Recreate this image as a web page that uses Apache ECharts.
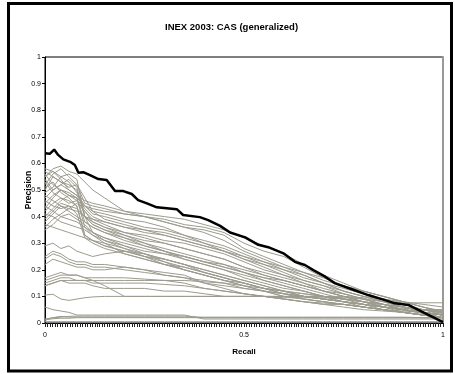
<!DOCTYPE html>
<html><head><meta charset="utf-8">
<script src="https://cdn.jsdelivr.net/npm/echarts@6/dist/echarts.min.js"></script>
<style>html,body{margin:0;padding:0;background:#fff}#c{width:455px;height:374px}</style>
</head><body><div id="c"></div>
<script>
const titleText = "INEX 2003: CAS (generalized)";
const xName = "Recall";
const yName = "Precision";
const xLabelValues = [0, 0.5, 1];

// best run (thick black line): recall / precision
const bestRecall = [0,0.012,0.023,0.033,0.046,0.063,0.075,0.084,0.096,0.113,0.134,0.155,0.176,0.197,0.218,0.234,0.256,0.281,0.331,0.347,0.389,0.41,0.44,0.465,0.503,0.536,0.561,0.599,0.628,0.653,0.674,0.704,0.729,0.771,0.812,0.854,0.879,0.913,0.938,0.972,1.0];
const bestPrecision = [0.638,0.636,0.652,0.632,0.615,0.606,0.594,0.565,0.567,0.556,0.541,0.538,0.496,0.496,0.485,0.462,0.45,0.435,0.428,0.406,0.398,0.387,0.365,0.34,0.322,0.294,0.285,0.262,0.23,0.218,0.199,0.174,0.149,0.127,0.105,0.086,0.074,0.068,0.049,0.024,0.003];

// other runs (gray lines), sampled at these recall levels
const recallGrid = [0,0.02,0.04,0.06,0.08,0.1,0.12,0.15,0.2,0.25,0.3,0.35,0.4,0.45,0.5,0.55,0.6,0.65,0.7,0.75,0.8,0.85,0.9,0.95,1];
const run01 = [0.55,0.58,0.59,0.57,0.56,0.53,0.50,0.47,0.42,0.40,0.39,0.37,0.36,0.34,0.30,0.27,0.25,0.21,0.17,0.14,0.11,0.09,0.075,0.076,0.076];
const run02 = [0.52,0.56,0.58,0.55,0.52,0.45,0.44,0.43,0.41,0.40,0.38,0.36,0.34,0.31,0.27,0.24,0.21,0.18,0.15,0.12,0.10,0.08,0.06,0.05,0.05];
const run03 = [0.58,0.57,0.55,0.56,0.54,0.40,0.39,0.38,0.36,0.35,0.33,0.31,0.29,0.27,0.24,0.22,0.19,0.16,0.14,0.11,0.09,0.07,0.05,0.04,0.03];
const run04 = [0.50,0.55,0.53,0.52,0.50,0.40,0.38,0.36,0.34,0.32,0.30,0.28,0.26,0.24,0.21,0.19,0.17,0.15,0.12,0.10,0.08,0.06,0.05,0.04,0.02];
const run05 = [0.56,0.52,0.50,0.48,0.47,0.36,0.34,0.32,0.30,0.28,0.26,0.24,0.22,0.20,0.18,0.16,0.14,0.12,0.10,0.09,0.07,0.06,0.04,0.03,0.02];
const run06 = [0.47,0.50,0.52,0.54,0.51,0.40,0.37,0.35,0.32,0.29,0.27,0.25,0.23,0.21,0.19,0.17,0.15,0.13,0.11,0.09,0.08,0.06,0.05,0.035,0.02];
const run07 = [0.53,0.49,0.47,0.45,0.46,0.44,0.42,0.41,0.39,0.38,0.36,0.33,0.30,0.27,0.24,0.21,0.18,0.15,0.13,0.11,0.09,0.07,0.06,0.04,0.03];
const run08 = [0.45,0.48,0.50,0.49,0.47,0.38,0.36,0.34,0.32,0.30,0.28,0.26,0.24,0.22,0.19,0.16,0.14,0.12,0.10,0.08,0.07,0.05,0.04,0.03,0.02];
const run09 = [0.42,0.45,0.47,0.46,0.44,0.33,0.31,0.29,0.27,0.26,0.24,0.22,0.20,0.18,0.16,0.14,0.12,0.10,0.09,0.08,0.06,0.05,0.04,0.03,0.02];
const run10 = [0.48,0.46,0.44,0.43,0.45,0.42,0.38,0.36,0.33,0.30,0.27,0.25,0.23,0.21,0.19,0.17,0.16,0.14,0.12,0.10,0.09,0.07,0.05,0.04,0.03];
const run11 = [0.40,0.43,0.46,0.48,0.47,0.44,0.43,0.42,0.41,0.40,0.38,0.36,0.35,0.33,0.28,0.25,0.22,0.19,0.16,0.14,0.12,0.10,0.08,0.06,0.04];
const run12 = [0.38,0.41,0.44,0.42,0.40,0.38,0.36,0.34,0.31,0.29,0.27,0.24,0.22,0.20,0.17,0.15,0.13,0.12,0.10,0.09,0.08,0.06,0.05,0.04,0.03];
const run13 = [0.51,0.53,0.49,0.47,0.44,0.33,0.31,0.29,0.27,0.25,0.23,0.21,0.19,0.17,0.15,0.13,0.11,0.10,0.09,0.08,0.07,0.06,0.05,0.04,0.03];
const run14 = [0.44,0.42,0.40,0.41,0.39,0.37,0.34,0.32,0.29,0.27,0.26,0.25,0.23,0.22,0.20,0.18,0.16,0.14,0.12,0.10,0.08,0.07,0.05,0.04,0.03];
const run15 = [0.49,0.51,0.55,0.53,0.49,0.44,0.41,0.40,0.38,0.36,0.35,0.33,0.31,0.29,0.26,0.23,0.20,0.18,0.15,0.12,0.10,0.09,0.07,0.05,0.03];
const run16 = [0.36,0.39,0.41,0.43,0.42,0.40,0.37,0.35,0.33,0.31,0.30,0.28,0.26,0.24,0.21,0.18,0.16,0.14,0.12,0.11,0.09,0.08,0.06,0.05,0.04];
const run17 = [0.55,0.57,0.54,0.50,0.48,0.46,0.45,0.44,0.42,0.41,0.40,0.39,0.37,0.35,0.32,0.29,0.26,0.22,0.18,0.15,0.12,0.10,0.08,0.06,0.045];
const run18 = [0.46,0.44,0.43,0.44,0.41,0.32,0.30,0.28,0.26,0.24,0.22,0.20,0.18,0.16,0.15,0.13,0.12,0.11,0.10,0.09,0.08,0.07,0.06,0.05,0.04];
const run19 = [0.41,0.40,0.38,0.37,0.36,0.35,0.33,0.31,0.29,0.26,0.23,0.20,0.18,0.16,0.14,0.12,0.11,0.10,0.09,0.08,0.07,0.06,0.05,0.04,0.03];
const run20 = [0.37,0.36,0.35,0.34,0.33,0.32,0.31,0.30,0.28,0.26,0.24,0.22,0.19,0.17,0.15,0.13,0.11,0.09,0.08,0.07,0.06,0.05,0.04,0.03,0.02];
const run21 = [0.29,0.30,0.28,0.29,0.27,0.26,0.25,0.26,0.27,0.25,0.24,0.22,0.20,0.18,0.16,0.14,0.12,0.10,0.09,0.08,0.07,0.06,0.05,0.04,0.03];
const run22 = [0.24,0.26,0.25,0.23,0.22,0.22,0.21,0.21,0.20,0.19,0.18,0.17,0.16,0.15,0.13,0.12,0.11,0.10,0.09,0.08,0.07,0.06,0.05,0.04,0.03];
const run23 = [0.22,0.24,0.23,0.22,0.21,0.21,0.20,0.20,0.21,0.20,0.19,0.18,0.15,0.13,0.11,0.10,0.09,0.08,0.07,0.06,0.05,0.045,0.04,0.03,0.02];
const run24 = [0.25,0.27,0.26,0.24,0.23,0.23,0.22,0.22,0.21,0.20,0.18,0.17,0.15,0.14,0.13,0.12,0.10,0.09,0.08,0.07,0.06,0.05,0.04,0.03,0.02];
const run25 = [0.16,0.17,0.18,0.18,0.18,0.17,0.16,0.14,0.10,0.10,0.10,0.10,0.10,0.10,0.10,0.10,0.095,0.095,0.095,0.09,0.08,0.06,0.05,0.04,0.03];
const run26 = [0.14,0.15,0.16,0.16,0.16,0.16,0.16,0.16,0.16,0.16,0.16,0.16,0.155,0.15,0.14,0.12,0.10,0.09,0.08,0.07,0.06,0.05,0.04,0.03,0.02];
const run27 = [0.17,0.18,0.19,0.18,0.18,0.17,0.17,0.17,0.17,0.165,0.16,0.15,0.13,0.12,0.11,0.10,0.09,0.08,0.07,0.07,0.06,0.05,0.04,0.03,0.02];
const run28 = [0.15,0.16,0.17,0.17,0.16,0.16,0.15,0.15,0.15,0.15,0.145,0.14,0.13,0.12,0.11,0.10,0.09,0.08,0.075,0.07,0.06,0.05,0.045,0.04,0.03];
const run29 = [0.105,0.108,0.09,0.085,0.09,0.095,0.098,0.1,0.1,0.1,0.1,0.1,0.1,0.1,0.1,0.1,0.1,0.1,0.1,0.1,0.095,0.06,0.055,0.05,0.05];
const run30 = [0.06,0.05,0.045,0.04,0.03,0.03,0.03,0.03,0.03,0.03,0.03,0.03,0.015,0.015,0.015,0.015,0.015,0.015,0.015,0.015,0.015,0.015,0.015,0.015,0.015];
const run31 = [0.01,0.02,0.025,0.022,0.022,0.022,0.022,0.022,0.022,0.022,0.022,0.022,0.022,0.022,0.022,0.022,0.022,0.022,0.022,0.022,0.022,0.022,0.022,0.02,0.02];
const run32 = [0.012,0.016,0.018,0.018,0.02,0.02,0.02,0.02,0.02,0.02,0.02,0.02,0.02,0.02,0.02,0.02,0.02,0.02,0.02,0.02,0.02,0.02,0.02,0.02,0.02];
const run33 = [0.005,0.005,0.005,0.005,0.005,0.005,0.005,0.005,0.005,0.005,0.005,0.005,0.005,0.005,0.005,0.005,0.005,0.005,0.005,0.005,0.005,0.005,0.005,0.005,0.005];
const run34 = [0.015,0.02,0.022,0.025,0.026,0.026,0.026,0.026,0.026,0.026,0.026,0.026,0.02,0.02,0.02,0.02,0.02,0.02,0.02,0.02,0.02,0.02,0.02,0.02,0.02];
const run35 = [0.14,0.15,0.16,0.15,0.15,0.15,0.14,0.13,0.13,0.13,0.12,0.12,0.11,0.10,0.10,0.10,0.10,0.10,0.10,0.095,0.09,0.09,0.08,0.07,0.06];
const run36 = [0.43,0.47,0.50,0.48,0.46,0.42,0.39,0.37,0.34,0.33,0.31,0.30,0.28,0.26,0.23,0.20,0.18,0.16,0.14,0.12,0.10,0.08,0.06,0.05,0.04];
const run37 = [0.54,0.50,0.52,0.50,0.48,0.43,0.40,0.38,0.36,0.34,0.33,0.31,0.29,0.27,0.25,0.23,0.21,0.19,0.17,0.14,0.12,0.10,0.08,0.06,0.04];
const run38 = [0.39,0.42,0.45,0.44,0.43,0.40,0.34,0.31,0.28,0.25,0.22,0.20,0.18,0.16,0.14,0.13,0.12,0.11,0.10,0.09,0.08,0.07,0.06,0.05,0.04];
const run39 = [0.35,0.37,0.40,0.39,0.38,0.36,0.33,0.30,0.26,0.24,0.22,0.21,0.19,0.17,0.15,0.13,0.12,0.10,0.09,0.08,0.07,0.06,0.05,0.04,0.03];
const run40 = [0.57,0.55,0.53,0.51,0.52,0.47,0.42,0.39,0.37,0.35,0.34,0.32,0.30,0.28,0.25,0.22,0.20,0.17,0.15,0.13,0.11,0.09,0.07,0.05,0.035];

const grayRuns = [run01,run02,run03,run04,run05,run06,run07,run08,run09,run10,run11,run12,run13,run14,run15,run16,run17,run18,run19,run20,run21,run22,run23,run24,run25,run26,run27,run28,run29,run30,run31,run32,run33,run34,run35,run36,run37,run38,run39,run40];

const pair = (xs, ys) => xs.map((x, i) => [x, ys[i]]);
const series = grayRuns.map(r => ({
  type: 'line', data: pair(recallGrid, r), symbol: 'none', silent: true,
  lineStyle: { color: '#9c9b8e', width: 1 }, z: 2
}));
series.push({
  type: 'line', data: pair(bestRecall, bestPrecision), symbol: 'none', silent: true,
  lineStyle: { color: '#000', width: 2.5 }, z: 5
});

const chart = echarts.init(document.getElementById('c'), null, { renderer: 'canvas' });
const F = 'Liberation Sans, Arial, sans-serif';
chart.setOption({
  animation: false,
  backgroundColor: '#fff',
  title: { text: titleText, left: 160, top: 17,
    textStyle: { fontFamily: F, fontSize: 9.5, fontWeight: 'bold', color: '#000' } },
  graphic: [{ type: 'rect', shape: { x: 8.5, y: 3.5, width: 443, height: 367.5 },
    style: { fill: 'none', stroke: '#000', lineWidth: 3 }, z: 100 }],
  grid: { left: 45, top: 57, right: 12, bottom: 51, show: true, borderColor: '#000', borderWidth: 1 },
  xAxis: [{
    type: 'value', min: 0, max: 1, interval: 0.00625,
    name: xName, nameLocation: 'middle', nameGap: 25, nameMoveOverlap: false,
    nameTextStyle: { fontFamily: F, fontSize: 8, fontWeight: 'bold', color: '#000' },
    axisLine: { lineStyle: { color: '#000', width: 1 } },
    axisTick: { show: true, inside: false, length: 4, lineStyle: { color: '#222', width: 1 } },
    axisLabel: { fontFamily: F, fontSize: 7, color: '#000', margin: 9, hideOverlap: false,
      formatter: v => { const m = xLabelValues.find(t => Math.abs(t - v) < 1e-6); return m === undefined ? '' : String(m); } },
    splitLine: { show: false }
  }],
  yAxis: [{
    type: 'value', min: 0, max: 1, interval: 0.1,
    name: yName, nameLocation: 'middle', nameGap: 12, nameMoveOverlap: false,
    nameTextStyle: { fontFamily: F, fontSize: 8.5, fontWeight: 'bold', color: '#000' },
    axisLine: { show: true, lineStyle: { color: '#000', width: 1 } },
    axisTick: { show: true, inside: false, length: 3, lineStyle: { color: '#000' } },
    axisLabel: { fontFamily: F, fontSize: 7, color: '#000', margin: 4 },
    splitLine: { show: false }
  }, {
    type: 'value', min: 0, max: 1, position: 'right',
    axisLine: { show: true, lineStyle: { color: '#999', width: 2 } },
    axisTick: { show: false }, axisLabel: { show: false }, splitLine: { show: false }
  }],
  series: series
});
</script>
</body></html>
